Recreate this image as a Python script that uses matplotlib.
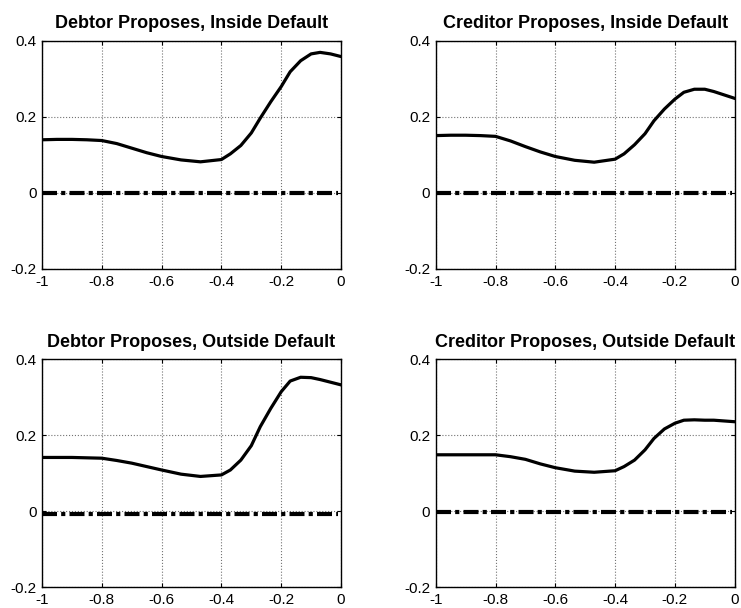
import matplotlib
matplotlib.use('Agg')
import matplotlib.pyplot as plt

plt.rcParams['font.family'] = ['Liberation Sans', 'DejaVu Sans']

x = [-1.0, -0.95, -0.9, -0.85, -0.8, -0.75, -0.7, -0.65, -0.6, -0.535,
     -0.47, -0.40, -0.37, -0.335, -0.30, -0.27, -0.235, -0.20, -0.17,
     -0.135, -0.10, -0.07, -0.035, 0.0]

debtor_inside = [0.140, 0.141, 0.141, 0.140, 0.138, 0.130, 0.118, 0.106, 0.096, 0.087,
                 0.082, 0.088, 0.103, 0.125, 0.158, 0.197, 0.240, 0.280, 0.319,
                 0.348, 0.366, 0.370, 0.366, 0.359]
creditor_inside = [0.151, 0.152, 0.152, 0.151, 0.149, 0.137, 0.122, 0.108, 0.096, 0.086,
                   0.081, 0.089, 0.103, 0.127, 0.156, 0.190, 0.221, 0.247, 0.265,
                   0.273, 0.273, 0.267, 0.258, 0.249]
debtor_outside = [0.141, 0.141, 0.141, 0.140, 0.139, 0.133, 0.126, 0.117, 0.108, 0.097,
                  0.091, 0.095, 0.108, 0.134, 0.172, 0.222, 0.270, 0.314, 0.342,
                  0.352, 0.351, 0.346, 0.339, 0.332]
creditor_outside = [0.148, 0.148, 0.148, 0.148, 0.148, 0.143, 0.136, 0.124, 0.114, 0.105,
                    0.102, 0.106, 0.117, 0.134, 0.161, 0.191, 0.216, 0.231, 0.239,
                    0.240, 0.239, 0.239, 0.237, 0.235]

# flat reference line (dash-dot), slightly below zero in the lower panels
ref_x = [-1.0, -0.01]
ref_level = [0.0, 0.0, -0.007, -0.003]

titles = ['Debtor Proposes, Inside Default', 'Creditor Proposes, Inside Default',
          'Debtor Proposes, Outside Default', 'Creditor Proposes, Outside Default']
curves = [debtor_inside, creditor_inside, debtor_outside, creditor_outside]

xticks = [-1, -0.8, -0.6, -0.4, -0.2, 0]
xticklabels = ['-1', '-0.8', '-0.6', '-0.4', '-0.2', '0']
yticks = [-0.2, 0, 0.2, 0.4]
yticklabels = ['-0.2', '0', '0.2', '0.4']

fig = plt.figure(figsize=(7.41, 6.08), dpi=100)
positions = [[0.0567, 0.5576, 0.4035, 0.375],
             [0.588, 0.5576, 0.4035, 0.375],
             [0.0567, 0.0345, 0.4035, 0.375],
             [0.588, 0.0345, 0.4035, 0.375]]

for i in range(4):
    ax = fig.add_axes(positions[i])
    ax.plot(x, curves[i], color='black', lw=2.3, solid_joinstyle='round')
    ax.plot(ref_x, [ref_level[i]] * 2, color='black', lw=3,
            dashes=(3.6, 1.0, 1.0, 1.0), dash_capstyle='butt')
    ax.set_xlim(-1, 0)
    ax.set_ylim(-0.2, 0.4)
    ax.set_xticks(xticks)
    ax.set_xticklabels(xticklabels)
    ax.set_yticks(yticks)
    ax.set_yticklabels(yticklabels)
    ax.tick_params(direction='in', length=3, width=0.8, top=True, right=True,
                   labelsize=11, colors='black')
    ax.tick_params(axis='x', pad=4)
    ax.tick_params(axis='y', pad=4)
    ax.grid(True, linestyle=':', color='0.45', lw=0.8)
    for s in ax.spines.values():
        s.set_linewidth(1.0)
    ax.set_title(titles[i], fontsize=13, fontweight='bold', pad=9)

plt.savefig('out.png', dpi=100)
